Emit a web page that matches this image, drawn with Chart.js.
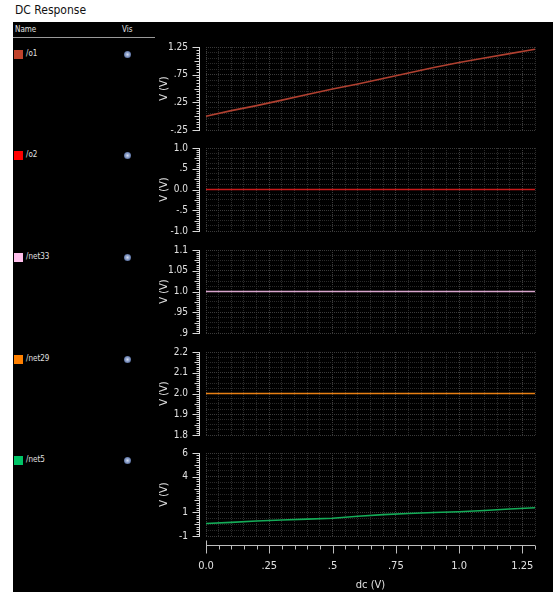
<!DOCTYPE html>
<html>
<head>
<meta charset="utf-8">
<script src="https://cdn.jsdelivr.net/npm/chart.js@4"></script>
<style>
  html, body { margin: 0; padding: 0; }
  body { width: 558px; height: 592px; background: #fff; position: relative; overflow: hidden;
         font-family: 'DejaVu Sans Condensed', 'DejaVu Sans', sans-serif; }
  #title { position: absolute; left: 15px; top: 3px; font-size: 12px; color: #111; }
  #frame { position: absolute; left: 13px; top: 22px; width: 540px; height: 570px; background: #000; }
  .hdr { position: absolute; top: 25px; font-size: 8px; color: #e0e0e0; }
  #hrule { position: absolute; left: 13px; top: 37px; width: 142px; height: 1px; background: #9a9a9a; }
  .row { position: absolute; left: 14px; height: 10px; font-size: 8px; color: #e0e0e0; }
  .sw { position: absolute; left: 0; top: 0; width: 9px; height: 9px; }
  .nm { position: absolute; left: 12px; top: -1px; white-space: nowrap; }
  .vis { position: absolute; left: 110px; top: 1px; width: 7px; height: 7px; border-radius: 50%;
         background: radial-gradient(circle, #d4dcee 0%, #8c9fc8 40%, #4a6192 80%, #243050 100%); }
  .plot { position: absolute; left: 150px; }
</style>
</head>
<body>
<div id="title">DC Response</div>
<div id="frame"></div>
<div class="hdr" style="left:15px">Name</div>
<div class="hdr" style="left:122px">Vis</div>
<div id="hrule"></div>
<div id="legend"></div>
<div id="plots"></div>

<script>
// DC sweep points (V)
const dcSweep = [0.0, 0.1, 0.2, 0.3, 0.4, 0.5, 0.6, 0.7, 0.8, 0.9, 1.0, 1.1, 1.2, 1.3];

// Node voltages over the sweep (V)
const o1    = [0.00, 0.10, 0.19, 0.29, 0.39, 0.49, 0.58, 0.68, 0.78, 0.88, 0.97, 1.05, 1.13, 1.21];
const o2    = [0, 0, 0, 0, 0, 0, 0, 0, 0, 0, 0, 0, 0, 0];
const net33 = [1.0, 1.0, 1.0, 1.0, 1.0, 1.0, 1.0, 1.0, 1.0, 1.0, 1.0, 1.0, 1.0, 1.0];
const net29 = [2.0, 2.0, 2.0, 2.0, 2.0, 2.0, 2.0, 2.0, 2.0, 2.0, 2.0, 2.0, 2.0, 2.0];
const net5  = [0.05, 0.15, 0.27, 0.35, 0.42, 0.50, 0.66, 0.80, 0.90, 0.98, 1.05, 1.15, 1.28, 1.38];

const seriesNames  = ['/o1', '/o2', '/net33', '/net29', '/net5'];
const seriesValues = [o1, o2, net33, net29, net5];

// Y-axis ranges per strip
const yMins = [-0.25, -1.0, 0.9, 1.8, -1];
const yMaxs = [1.25, 1.0, 1.1, 2.2, 6];

// Labelled y ticks per strip
const yTickValues = [
  [1.25, 0.75, 0.25, -0.25],
  [1.0, 0.5, 0.0, -0.5, -1.0],
  [1.1, 1.05, 1.0, 0.95, 0.9],
  [2.2, 2.1, 2.0, 1.9, 1.8],
  [6, 4, 1, -1]
];
const yTickTexts = [
  ['1.25', '.75', '.25', '-.25'],
  ['1.0', '.5', '0.0', '-.5', '-1.0'],
  ['1.1', '1.05', '1.0', '.95', '.9'],
  ['2.2', '2.1', '2.0', '1.9', '1.8'],
  ['6', '4', '1', '-1']
];
// Horizontal grid spacing and ruler spacing per strip
const yGridSteps  = [0.1, 0.125, 0.0125, 0.025, 0.5];
const yRulerSteps = [0.05, 0.05, 0.005, 0.01, 0.2];

// X axis
const xMin = 0, xMax = 1.3, xMinorStep = 0.05;
const xTickValues = [0, 0.25, 0.5, 0.75, 1.0, 1.25];
const xTickTexts  = ['0.0', '.25', '.5', '.75', '1.0', '1.25'];

// Styling
const lineColors   = ['#b04030', '#c81a1a', '#d8a4cc', '#e88014', '#14ac58'];
const swatchColors = ['#c0432c', '#ff0000', '#ffc0ec', '#ff8000', '#00c466'];
const stripTops = [47, 148, 250, 352, 453];
const stripHeight = 83;
const fontFamily = "'DejaVu Sans Condensed', 'DejaVu Sans', sans-serif";
const tickFont = { family: fontFamily, size: 10 };
const xFont    = { family: fontFamily, size: 11 };
const clear = 'rgba(0,0,0,0)';

function near(a, b, tol) { return Math.abs(a - b) < tol; }
function steps(min, max, step) {
  const n = Math.round((max - min) / step);
  const out = [];
  for (let k = 0; k <= n; k++) out.push(min + k * step);
  return out;
}

// Legend column
const legend = document.getElementById('legend');
seriesNames.forEach((name, i) => {
  const row = document.createElement('div');
  row.className = 'row';
  row.style.top = (stripTops[i] + 3) + 'px';
  row.innerHTML = '<div class="sw" style="background:' + swatchColors[i] + '"></div>' +
                  '<div class="nm">' + name + '</div><div class="vis"></div>';
  legend.appendChild(row);
});

// Draws the comb rulers next to the y axis and under the last strip
const rulerPlugin = {
  id: 'ruler',
  afterDraw(chart) {
    const opts = chart.options.plugins.ruler;
    const i = opts.strip;
    const ctx = chart.ctx;
    const ys = chart.scales.y, xs = chart.scales.x;
    const area = chart.chartArea;
    ctx.save();
    ctx.strokeStyle = '#d8d8d8';
    ctx.lineWidth = 1;
    const spine = Math.round(area.left) - 6.5;
    ctx.beginPath();
    ctx.moveTo(spine, ys.getPixelForValue(yMaxs[i]));
    ctx.lineTo(spine, ys.getPixelForValue(yMins[i]));
    const rs = yRulerSteps[i];
    steps(yMins[i], yMaxs[i], rs).forEach((v, k) => {
      const y = Math.round(ys.getPixelForValue(v)) + 0.5;
      const labelled = yTickValues[i].some(t => near(t, v, rs * 1e-3));
      const len = labelled ? 7 : (k % 5 === 0 ? 5 : 3);
      ctx.moveTo(spine - len, y);
      ctx.lineTo(spine + 0.5, y);
    });
    ctx.stroke();

    if (opts.xAxis) {
      ctx.strokeStyle = '#bdbdbd';
      const y0 = Math.round(area.bottom) + 9.5;
      ctx.beginPath();
      ctx.moveTo(xs.getPixelForValue(xMin), y0);
      ctx.lineTo(xs.getPixelForValue(xMax), y0);
      steps(xMin, xMax, xMinorStep).forEach(v => {
        const x = Math.round(xs.getPixelForValue(v)) + 0.5;
        const major = xTickValues.some(t => near(t, v, 1e-6));
        ctx.moveTo(x, y0);
        ctx.lineTo(x, y0 + (major ? 8 : 4));
      });
      const x0 = Math.round(xs.getPixelForValue(xMin)) + 0.5;
      ctx.moveTo(x0, y0);
      ctx.lineTo(x0, y0 - 5);
      ctx.stroke();
    }
    ctx.restore();
  }
};

const plots = document.getElementById('plots');
seriesValues.forEach((vals, i) => {
  const last = i === seriesValues.length - 1;
  const top = stripTops[i] - 8;
  const height = last ? 592 - top : stripHeight + 16;
  const wrap = document.createElement('div');
  wrap.className = 'plot';
  wrap.style.top = top + 'px';
  const canvas = document.createElement('canvas');
  canvas.width = 403;
  canvas.height = height;
  wrap.appendChild(canvas);
  plots.appendChild(wrap);

  const gridVals = steps(yMins[i], yMaxs[i], yGridSteps[i]);
  const yAll = gridVals.slice();
  yTickValues[i].forEach(v => { if (!yAll.some(g => near(g, v, 1e-9))) yAll.push(v); });
  yAll.sort((a, b) => a - b);
  const tol = yGridSteps[i] * 1e-3;

  new Chart(canvas.getContext('2d'), {
    type: 'line',
    data: {
      datasets: [{
        label: seriesNames[i],
        data: dcSweep.map((x, j) => ({ x: x, y: vals[j] })),
        borderColor: lineColors[i],
        borderWidth: 1.6,
        pointRadius: 0,
        tension: 0,
        clip: 2
      }]
    },
    options: {
      responsive: false,
      animation: false,
      events: [],
      layout: { padding: { top: 8, right: 18, bottom: last ? 0 : 8, left: 0 } },
      plugins: {
        legend: { display: false },
        tooltip: { enabled: false },
        ruler: { strip: i, xAxis: last }
      },
      scales: {
        x: {
          type: 'linear',
          min: xMin,
          max: xMax,
          afterBuildTicks: s => { s.ticks = steps(xMin, xMax, xMinorStep).map(v => ({ value: v })); },
          afterFit: s => { s.height = last ? 56 : 0; },
          grid: {
            drawTicks: last,
            tickLength: 24,
            tickColor: clear,
            lineWidth: 1,
            color: c => xTickValues.some(t => near(t, c.tick.value, 1e-6)) ? '#3e3e3e' : '#2c2c2c'
          },
          border: { display: false, dash: [1, 1] },
          ticks: {
            display: last,
            autoSkip: false,
            maxRotation: 0,
            padding: 0,
            color: '#e0e0e0',
            font: xFont,
            callback: v => {
              const k = xTickValues.findIndex(t => near(t, v, 1e-6));
              return k >= 0 ? xTickTexts[k] : '';
            }
          },
          title: {
            display: last,
            text: 'dc (V)',
            color: '#e0e0e0',
            font: xFont,
            padding: { top: 0, bottom: 0 }
          }
        },
        y: {
          min: yMins[i],
          max: yMaxs[i],
          afterBuildTicks: s => { s.ticks = yAll.map(v => ({ value: v })); },
          afterFit: s => { s.width = 56; },
          grid: {
            drawTicks: true,
            tickLength: 17,
            tickColor: clear,
            lineWidth: 1,
            color: c => {
              const v = c.tick.value;
              if (!gridVals.some(g => near(g, v, tol))) return clear;
              return yTickValues[i].some(t => near(t, v, tol)) ? '#3a3a3a' : '#2a2a2a';
            }
          },
          border: { display: false, dash: [1, 1] },
          ticks: {
            autoSkip: false,
            padding: 1,
            color: '#e0e0e0',
            font: tickFont,
            callback: v => {
              const k = yTickValues[i].findIndex(t => near(t, v, tol));
              return k >= 0 ? yTickTexts[i][k] : '';
            }
          },
          title: {
            display: true,
            text: 'V (V)',
            color: '#e0e0e0',
            font: { family: fontFamily, size: 11 },
            padding: { top: 8, bottom: 0 }
          }
        }
      }
    },
    plugins: [rulerPlugin]
  });
});
</script>
</body>
</html>
